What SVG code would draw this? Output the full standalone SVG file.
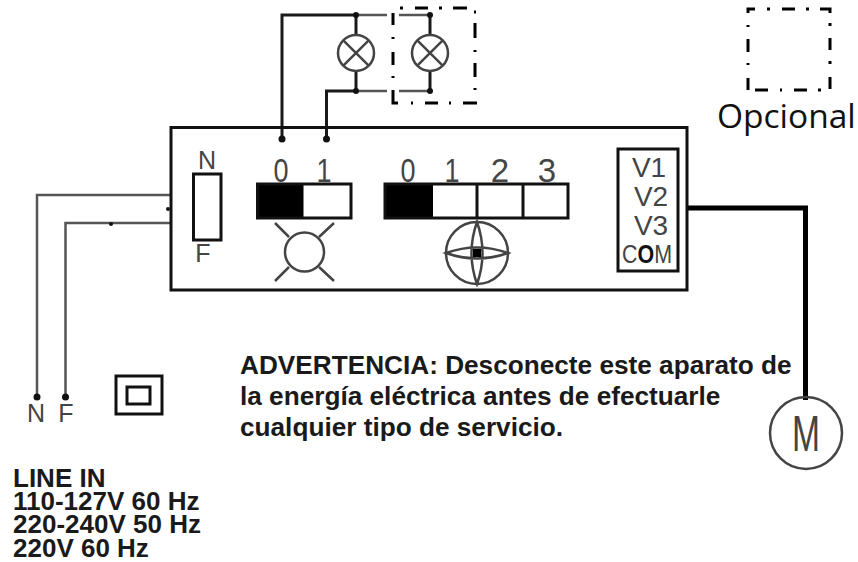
<svg xmlns="http://www.w3.org/2000/svg" width="858" height="562" viewBox="0 0 858 562">
<style>
.l{fill:none;stroke:#1a1a1a;stroke-width:3}
.t{fill:none;stroke:#444;stroke-width:2.500}
.g{fill:none;stroke:#555;stroke-width:2.500}
.b{fill:none;stroke:#111;stroke-width:3}
.d{fill:none;stroke:#000;stroke-width:3}
.c{font-family:"Liberation Sans",Arial,sans-serif;fill:#444;font-size:33px;text-anchor:middle}
.s{font-size:25px}
.v{font-size:28px}
.w{font-family:"Liberation Sans",Arial,sans-serif;font-weight:700;font-size:26.200px;fill:#1a1a1a}
.i{font-family:"Liberation Sans",Arial,sans-serif;font-weight:700;font-size:26px;fill:#1a1a1a}
</style>
<rect width="858" height="562" fill="#fff"/>
<g id="connectors">
<path class="l" d="M282 139V15H356M326.500 139V91H356M356 15V35M356 71V91"/>
<path class="g" d="M356 15H387M399 15H430M356 91H387M399 91H430"/>
<path class="l" d="M430 15V35M430 71V91"/>
<path class="g" d="M171 195H37V397M171 223H65.500V397"/>
<path d="M687 208H805.500V400" fill="none" stroke="#000" stroke-width="5"/>
<g fill="#111"><circle cx="282" cy="139" r="3.500"/><circle cx="326.500" cy="139" r="3.500"/><circle cx="356" cy="15" r="3"/><circle cx="356" cy="91" r="3"/><circle cx="430" cy="15" r="3"/><circle cx="430" cy="91" r="3"/><circle cx="37" cy="397" r="3.500"/><circle cx="65.500" cy="397" r="3.500"/><circle cx="111" cy="224" r="2"/><circle cx="168" cy="209" r="2"/></g>
</g>
<g id="lamp-1"><circle class="t" cx="356" cy="53" r="18"/><path class="t" d="M343.300 40.300L368.700 65.700M368.700 40.300L343.300 65.700"/></g>
<g id="lamp-2"><circle class="t" cx="430" cy="53" r="18"/><path class="t" d="M417.300 40.300L442.700 65.700M442.700 40.300L417.300 65.700"/></g>
<g id="optional-frame"><path class="d" d="M400 8H403M415 8H428M439 8H442M453 8H467M474 12H476M475 23V38M475 50V52M475 63V77M475 88V90M477 103H463M451 103H449M438 103H425M413 103H411M398 103H393V90M393 78V76M393 65V52M393 39V37M393 25V13"/></g>
<g id="legend">
<path class="d" d="M748 13V9H755M767 9H770M782 9H795M806 9H809M820 9H830V13M830 23V26M830 38V50M830 61V64M830 77V89M821 90H818M807 90H794M782 90H780M768 90H755M748 90V78M748 65V63M748 52V39M748 27V25"/>
<text x="717" y="128" font-family="Open Sans,sans-serif" font-size="33.500px" fill="#111">Opcional</text>
</g>
<g id="control-box"><rect class="b" x="171" y="127.500" width="516" height="162.500"/></g>
<g id="fuse"><rect class="b" x="193.500" y="174" width="27.500" height="66"/>
<text class="c s" x="207" y="169">N</text><text class="c s" x="203" y="262">F</text></g>
<g id="light-switch">
<rect x="257.500" y="184" width="46" height="34" fill="#000"/>
<rect class="b" x="257.500" y="184" width="93.500" height="34"/>
<text class="c" x="281" y="182" textLength="15" lengthAdjust="spacingAndGlyphs">0</text><text class="c" x="324" y="182" textLength="15" lengthAdjust="spacingAndGlyphs">1</text>
<circle class="t" cx="304.500" cy="252" r="19.500"/>
<path class="t" d="M275 223L289 237M334 223L319 237M275 281L289 267M334 281L319 267"/>
</g>
<g id="fan-switch">
<rect x="385" y="184" width="48" height="34" fill="#000"/>
<rect class="b" x="385" y="184" width="183" height="34"/>
<path class="b" d="M477 184V218M523 184V218"/>
<text class="c" x="408" y="182" textLength="15" lengthAdjust="spacingAndGlyphs">0</text><text class="c" x="452" y="182" textLength="15" lengthAdjust="spacingAndGlyphs">1</text><text class="c" x="500" y="182">2</text><text class="c" x="547" y="182">3</text>
<circle class="t" cx="477" cy="253" r="31"/>
<path class="t" d="M477 222Q488 253 477 284Q466 253 477 222ZM446 253Q477 264 508 253Q477 242 446 253Z"/>
<rect x="473" y="249" width="8" height="8" fill="#000"/>
</g>
<g id="speed-terminal"><rect class="b" x="618" y="149" width="60" height="122"/>
<text class="c v" x="649" y="177">V1</text><text class="c v" x="651" y="206">V2</text><text class="c v" x="651" y="235">V3</text><text class="c" x="647" y="263" style="font-size:25px" textLength="50" lengthAdjust="spacingAndGlyphs">C<tspan fill="#111" font-weight="700">O</tspan>M</text></g>
<g id="motor"><circle class="t" cx="806" cy="433" r="36"/><text class="c" x="806" y="451" style="font-size:50px" textLength="28" lengthAdjust="spacingAndGlyphs">M</text></g>
<g id="terminals"><text class="c s" x="36" y="422">N</text><text class="c s" x="66" y="422">F</text></g>
<g id="ground"><rect class="b" x="116" y="376" width="46" height="38"/><rect class="b" x="127" y="387" width="23" height="17"/></g>
<g id="warning"><text class="w"><tspan x="240" y="374">ADVERTENCIA: Desconecte este aparato de</tspan><tspan x="240" y="405">la energía eléctrica antes de efectuarle</tspan><tspan x="240" y="436">cualquier tipo de servicio.</tspan></text></g>
<g id="line-in"><text class="i"><tspan x="13" y="487">LINE IN</tspan><tspan x="13" y="510">110-127V 60 Hz</tspan><tspan x="13" y="533">220-240V 50 Hz</tspan><tspan x="13" y="557">220V 60 Hz</tspan></text></g>
</svg>
